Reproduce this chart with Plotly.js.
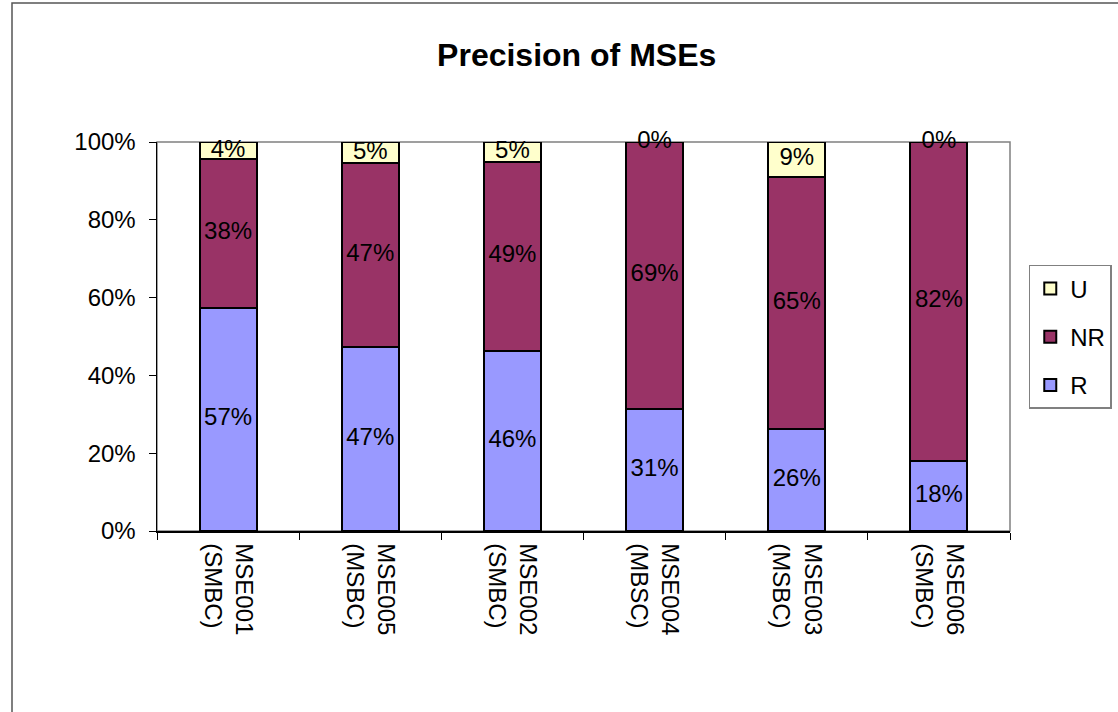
<!DOCTYPE html>
<html>
<head>
<meta charset="utf-8">
<script src="https://cdn.plot.ly/plotly-3.0.1.min.js"></script>
<style>html,body{margin:0;padding:0;background:#fff;}#chart{width:1118px;height:712px;}</style>
</head>
<body>
<div id="chart"></div>
<script>
const categories = ["MSE001<br>(SMBC)", "MSE005<br>(MSBC)", "MSE002<br>(SMBC)", "MSE004<br>(MBSC)", "MSE003<br>(MSBC)", "MSE006<br>(SMBC)"];
const valuesR  = [57.4, 47.4, 46.3, 31.4, 26.2, 18.0];
const valuesNR = [38.2, 47.2, 48.6, 68.6, 64.9, 82.0];
const valuesU  = [4.4, 5.4, 5.1, 0.0, 8.9, 0.0];
const yTickVals = [0, 20, 40, 60, 80, 100];
const yTickText = ["0%", "20%", "40%", "60%", "80%", "100%"];

const FONT = "Liberation Sans, Arial, sans-serif";
const seriesList = [
  {name: "R", vals: valuesR, color: "#9999ff", rank: 3},
  {name: "NR", vals: valuesNR, color: "#993366", rank: 2},
  {name: "U", vals: valuesU, color: "#ffffcc", rank: 1}
];
const data = [];
const base = categories.map(() => 0);
const labelTraces = [];
seriesList.forEach((s) => {
  data.push({
    type: "bar", name: s.name, x: categories, y: s.vals,
    legendgroup: s.name, legendrank: s.rank,
    marker: {color: s.color, line: {color: "#000", width: 2}},
    textposition: "none", hoverinfo: "none"
  });
  const mids = s.vals.map((v, i) => base[i] + v / 2);
  s.vals.forEach((v, i) => { base[i] += v; });
  labelTraces.push({
    type: "scatter", mode: "text", x: categories, y: mids,
    text: s.vals.map(v => Math.round(v) + "%"),
    textposition: "middle center", cliponaxis: false, showlegend: false,
    textfont: {family: FONT, size: 24, color: "#000"}, hoverinfo: "none"
  });
});
const allData = data.concat(labelTraces);

const layout = {
  width: 1118, height: 712,
  margin: {l: 157, r: 108, t: 142, b: 181, autoexpand: false},
  paper_bgcolor: "#fff", plot_bgcolor: "#fff",
  barmode: "stack", bargap: 0.6,
  title: {text: "<b>Precision of MSEs</b>", font: {family: FONT, size: 32, color: "#000"},
          x: 0.492, xref: "paper", xanchor: "center", y: 0.923, yanchor: "middle"},
  font: {family: FONT, size: 24, color: "#000"},
  xaxis: {
    type: "category", tickangle: 90, showline: true, linecolor: "#000", linewidth: 1.5,
    ticks: "outside", ticklen: 7, tickcolor: "#000", tickson: "boundaries",
    ticklabelstandoff: 6,
    showgrid: false, zeroline: false, fixedrange: true,
    tickfont: {family: FONT, size: 24, color: "#000"}
  },
  yaxis: {
    range: [0, 100], tickvals: yTickVals, ticktext: yTickText,
    showline: true, linecolor: "#000", linewidth: 1.5,
    ticks: "outside", ticklen: 7, tickcolor: "#000", ticklabelstandoff: 8,
    showgrid: false, zeroline: false, fixedrange: true,
    tickfont: {family: FONT, size: 24, color: "#000"}
  },
  legend: {
    x: 1.022, xanchor: "left", y: 0.684, yanchor: "top",
    traceorder: "grouped", bordercolor: "#808080", borderwidth: 1.5,
    font: {family: FONT, size: 24, color: "#000"},
    itemwidth: 30, tracegroupgap: 14
  },
  shapes: [
    {type: "rect", xref: "paper", yref: "paper", x0: 0, x1: 1, y0: 0, y1: 1,
     line: {color: "#808080", width: 1.5}, layer: "below"},
    {type: "rect", xref: "paper", yref: "paper", x0: (12-157)/853, x1: 1.2, y0: -0.6, y1: (531-3)/389,
     line: {color: "#555", width: 1.5}, layer: "below"}
  ]
};
Plotly.newPlot("chart", allData, layout, {displayModeBar: false, staticPlot: true});
</script>
</body>
</html>
